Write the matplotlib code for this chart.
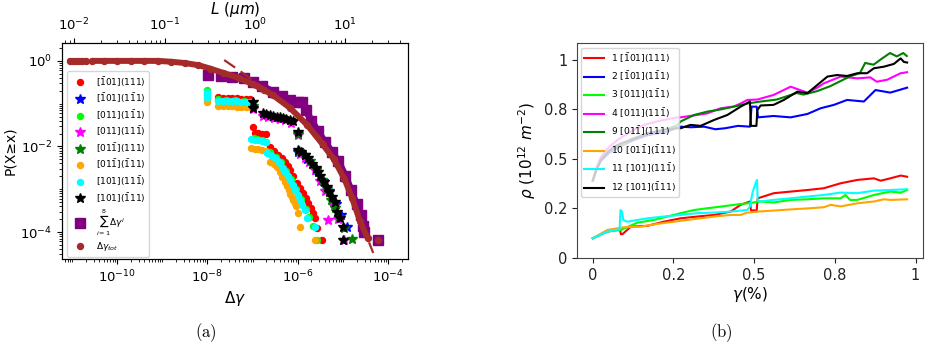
import numpy as np
import matplotlib
matplotlib.use("Agg")
import matplotlib.pyplot as plt
from matplotlib.ticker import FixedLocator, LogLocator, NullFormatter

# ---------------- Panel (a): CCDF data (log10 values) ----------------
red_lx = [-7.76, -7.65, -7.55, -7.45, -7.35, -7.25, -7.15, -7.05, -7.0, -6.95, -6.87, -6.79, -6.71, -6.61, -6.52,
          -6.44, -6.36, -6.28, -6.22, -6.17, -6.1, -6.02, -5.95, -5.88, -5.82, -5.77, -5.71, -5.66, -5.62, -5.57, -5.46]
red_ly = [-0.85, -0.86, -0.86, -0.87, -0.87, -0.88, -0.88, -0.9, -1.54, -1.68, -1.69, -1.7, -1.72, -2.01, -2.1,
          -2.2, -2.28, -2.36, -2.45, -2.55, -2.7, -2.85, -2.97, -3.09, -3.2, -3.32, -3.44, -3.56, -3.67, -3.91, -4.19]

blue_lx = [-6.0, -5.8, -5.6, -5.45, -5.3, -5.15, -5.05, -4.91]
blue_ly = [-2.12, -2.3, -2.55, -2.8, -3.05, -3.35, -3.6, -3.88]

lime_lx = [-8.0, -8.0, -8.0, -7.76, -7.6, -7.4, -7.2, -7.03, -6.98, -6.9, -6.8, -6.7, -6.62, -6.48, -6.37, -6.26,
           -6.15, -6.04, -5.93, -5.82, -5.76, -5.66, -5.57]
lime_ly = [-0.68, -0.74, -0.8, -0.9, -0.91, -0.92, -0.93, -0.95, -1.8, -1.83, -1.86, -1.9, -2.12, -2.25, -2.37, -2.58,
           -2.76, -3.0, -3.23, -3.47, -3.65, -3.86, -4.19]

magenta_lx = [-7.0, -6.77, -6.65, -6.52, -6.4, -6.28, -6.15, -6.0, -5.95, -5.85, -5.75, -5.62, -5.5, -5.4, -5.33,
              -5.2, -5.1, -4.98]
magenta_ly = [-1.12, -1.28, -1.31, -1.33, -1.36, -1.39, -1.45, -1.74, -2.17, -2.27, -2.36, -2.55, -2.8, -3.05, -3.72,
              -3.4, -3.7, -4.19]

green_lx = [-7.0, -6.0, -5.97, -5.85, -5.72, -5.6, -5.47, -5.36, -5.27, -5.18, -5.08, -4.97, -4.8]
green_ly = [-1.06, -1.7, -2.1, -2.2, -2.33, -2.52, -2.78, -3.0, -3.25, -3.45, -3.65, -3.9, -4.17]

orange_lx = [-8.0, -8.0, -7.76, -7.65, -7.55, -7.45, -7.35, -7.25, -7.15, -7.05, -7.03, -6.95, -6.87, -6.79, -6.71,
             -6.61, -6.53, -6.46, -6.4, -6.35, -6.29, -6.24, -6.2, -6.17, -6.13, -6.1, -6.07, -6.04, -5.99, -5.95, -5.62]
orange_ly = [-0.9, -0.97, -1.05, -1.05, -1.06, -1.06, -1.07, -1.07, -1.08, -1.08, -2.04, -2.05, -2.07, -2.09, -2.11,
             -2.36, -2.42, -2.48, -2.6, -2.72, -2.83, -2.93, -3.02, -3.1, -3.18, -3.25, -3.32, -3.4, -3.55, -3.88, -4.19]

cyan_lx = [-8.0, -8.0, -8.0, -7.76, -7.65, -7.55, -7.45, -7.35, -7.25, -7.15, -7.05, -7.03, -6.95, -6.87, -6.79, -6.71,
           -6.68, -6.59, -6.5, -6.44, -6.39, -6.33, -6.28, -6.22, -6.17, -6.11, -6.06, -6.0, -5.95, -5.9, -5.84, -5.8,
           -5.62]
cyan_ly = [-0.72, -0.79, -0.86, -0.93, -0.93, -0.94, -0.94, -0.94, -0.95, -0.95, -0.96, -1.82, -1.84, -1.86, -1.88, -1.9,
           -2.15, -2.2, -2.27, -2.33, -2.39, -2.5, -2.6, -2.69, -2.78, -2.9, -3.02, -3.14, -3.25, -3.37, -3.49, -3.67,
           -3.88]

black_lx = [-7.0, -7.0, -6.77, -6.7, -6.62, -6.55, -6.47, -6.4, -6.32, -6.25, -6.17, -6.1, -6.0, -6.0, -5.93, -5.85,
            -5.77, -5.68, -5.6, -5.55, -5.5, -5.42, -5.35, -5.3, -5.24, -5.18, -5.13, -5.06, -5.0, -5.0]
black_ly = [-0.96, -1.1, -1.22, -1.25, -1.27, -1.28, -1.3, -1.32, -1.33, -1.35, -1.38, -1.4, -1.66, -2.08, -2.13, -2.2,
            -2.28, -2.4, -2.5, -2.6, -2.7, -2.83, -2.95, -3.06, -3.18, -3.3, -3.53, -3.67, -3.88, -4.19]

sum_lx = [-7.99, -7.7, -7.45, -7.2, -6.99, -6.8, -6.55, -6.35, -6.17, -6.0, -5.9, -5.82, -5.7, -5.55, -5.4, -5.25,
          -5.1, -4.95, -4.82, -4.7, -4.6, -4.56, -4.54, -4.22]
sum_ly = [-0.32, -0.36, -0.38, -0.41, -0.5, -0.58, -0.72, -0.82, -0.92, -0.95, -0.97, -1.15, -1.4, -1.65, -1.9, -2.12,
          -2.35, -2.68, -3.02, -3.35, -3.6, -3.85, -4.0, -4.19]

tot_lx = [-11.05, -10.98, -10.91, -10.84, -10.77, -10.7, -10.55, -10.3, -10.0, -9.7, -9.4, -9.1, -8.8, -8.5, -8.2,
          -7.94, -7.65, -7.3, -6.99, -6.75, -6.55, -6.17, -5.79, -5.45, -5.2, -4.97, -4.8, -4.62, -4.45, -4.22]
tot_ly = [0, 0, 0, 0, 0, 0, 0, 0, 0, 0, 0, 0, -0.02, -0.05, -0.1, -0.18, -0.28, -0.4, -0.55, -0.68, -0.8, -1.1, -1.5,
          -1.95, -2.3, -2.75, -3.2, -3.75, -4.15, -4.19]

fit_lx = [-7.63, -7.3, -7.0, -6.7, -6.4, -6.1, -5.8, -5.5, -5.2, -4.95, -4.75, -4.55, -4.33]
fit_ly = [0.02, -0.22, -0.45, -0.67, -0.9, -1.15, -1.45, -1.8, -2.25, -2.75, -3.3, -3.9, -4.49]

labels_a = [r'$[\bar{1}01](111)$', r'$[\bar{1}01](1\bar{1}1)$', r'$[011](1\bar{1}1)$', r'$[011](11\bar{1})$',
            r'$[01\bar{1}](111)$', r'$[01\bar{1}](\bar{1}11)$', r'$[101](11\bar{1})$', r'$[101](\bar{1}11)$']

# ---------------- Panel (b): dislocation density per slip system ----------------
s1_x = [0, 0.045, 0.084, 0.087, 0.092, 0.118, 0.169, 0.22, 0.272, 0.324, 0.376, 0.427, 0.458, 0.487, 0.49, 0.508,
        0.511, 0.561, 0.613, 0.665, 0.716, 0.768, 0.82, 0.871, 0.892, 0.922, 0.954, 0.974]
s1_y = [0.099, 0.133, 0.145, 0.12, 0.12, 0.158, 0.162, 0.183, 0.2, 0.209, 0.217, 0.234, 0.268, 0.285, 0.24, 0.24,
        0.301, 0.327, 0.335, 0.343, 0.352, 0.377, 0.394, 0.402, 0.39, 0.402, 0.416, 0.41]

s2_x = [0, 0.01, 0.025, 0.05, 0.08, 0.128, 0.17, 0.23, 0.272, 0.303, 0.345, 0.38, 0.41, 0.45, 0.487, 0.492, 0.508,
        0.512, 0.56, 0.613, 0.665, 0.706, 0.747, 0.788, 0.84, 0.876, 0.922, 0.974]
s2_y = [0.39, 0.44, 0.49, 0.53, 0.56, 0.596, 0.62, 0.638, 0.663, 0.66, 0.663, 0.65, 0.655, 0.667, 0.663, 0.764, 0.764,
        0.71, 0.717, 0.71, 0.727, 0.756, 0.773, 0.798, 0.79, 0.848, 0.835, 0.86]

s3_x = [0, 0.045, 0.087, 0.138, 0.19, 0.231, 0.272, 0.314, 0.355, 0.396, 0.437, 0.479, 0.52, 0.56, 0.613, 0.665,
        0.716, 0.768, 0.783, 0.797, 0.82, 0.871, 0.922, 0.954, 0.974]
s3_y = [0.099, 0.133, 0.141, 0.178, 0.192, 0.209, 0.226, 0.242, 0.251, 0.259, 0.268, 0.276, 0.285, 0.28, 0.293, 0.296,
        0.301, 0.301, 0.318, 0.293, 0.293, 0.318, 0.335, 0.33, 0.343]

s4_x = [0, 0.01, 0.025, 0.05, 0.08, 0.12, 0.159, 0.2, 0.23, 0.262, 0.272, 0.314, 0.355, 0.396, 0.437, 0.458, 0.479,
        0.51, 0.56, 0.613, 0.665, 0.696, 0.716, 0.768, 0.82, 0.86, 0.88, 0.912, 0.954, 0.974]
s4_y = [0.39, 0.45, 0.51, 0.56, 0.6, 0.64, 0.672, 0.69, 0.7, 0.71, 0.71, 0.72, 0.73, 0.756, 0.765, 0.78, 0.798, 0.80,
        0.823, 0.865, 0.835, 0.86, 0.882, 0.916, 0.907, 0.912, 0.89, 0.90, 0.933, 0.938]

s9_x = [0, 0.01, 0.025, 0.05, 0.066, 0.1, 0.118, 0.17, 0.22, 0.262, 0.272, 0.314, 0.355, 0.396, 0.437, 0.479, 0.52,
        0.57, 0.632, 0.653, 0.694, 0.735, 0.766, 0.797, 0.828, 0.844, 0.87, 0.89, 0.921, 0.942, 0.962, 0.973]
s9_y = [0.39, 0.44, 0.495, 0.54, 0.56, 0.575, 0.6, 0.63, 0.645, 0.67, 0.689, 0.722, 0.739, 0.75, 0.764, 0.78, 0.79,
        0.80, 0.833, 0.825, 0.842, 0.867, 0.892, 0.917, 0.934, 0.985, 0.976, 1.0, 1.035, 1.018, 1.035, 1.02]

s10_x = [0, 0.045, 0.097, 0.149, 0.2, 0.252, 0.293, 0.334, 0.376, 0.427, 0.458, 0.479, 0.51, 0.56, 0.613, 0.665,
         0.716, 0.737, 0.768, 0.82, 0.871, 0.902, 0.922, 0.974]
s10_y = [0.099, 0.141, 0.155, 0.158, 0.172, 0.183, 0.192, 0.2, 0.209, 0.217, 0.217, 0.229, 0.234, 0.239, 0.245, 0.25,
         0.256, 0.268, 0.26, 0.276, 0.285, 0.296, 0.293, 0.296]

s11_x = [0, 0.045, 0.083, 0.086, 0.09, 0.095, 0.107, 0.169, 0.22, 0.272, 0.324, 0.376, 0.427, 0.479, 0.487, 0.495,
         0.505, 0.509, 0.511, 0.52, 0.56, 0.613, 0.665, 0.716, 0.768, 0.82, 0.871, 0.922, 0.974]
s11_y = [0.099, 0.133, 0.145, 0.242, 0.235, 0.19, 0.183, 0.2, 0.209, 0.217, 0.226, 0.229, 0.234, 0.242, 0.26, 0.33,
         0.38, 0.394, 0.29, 0.285, 0.293, 0.301, 0.31, 0.318, 0.33, 0.327, 0.34, 0.343, 0.347]

s12_x = [0, 0.01, 0.025, 0.05, 0.066, 0.09, 0.118, 0.15, 0.17, 0.2, 0.23, 0.262, 0.272, 0.303, 0.334, 0.376, 0.417,
         0.458, 0.487, 0.49, 0.507, 0.51, 0.52, 0.56, 0.592, 0.634, 0.665, 0.696, 0.727, 0.757, 0.788, 0.82, 0.85,
         0.871, 0.902, 0.933, 0.954, 0.964, 0.974]
s12_y = [0.39, 0.44, 0.495, 0.54, 0.562, 0.58, 0.596, 0.615, 0.63, 0.64, 0.65, 0.655, 0.655, 0.672, 0.667, 0.697,
         0.722, 0.764, 0.79, 0.667, 0.667, 0.747, 0.77, 0.773, 0.798, 0.84, 0.832, 0.874, 0.916, 0.924, 0.919, 0.933,
         0.933, 0.958, 0.966, 0.98, 1.008, 0.99, 0.987]

labels_b = ['1 ' + r'$[\bar{1}01](111)$', '2 ' + r'$[\bar{1}01](1\bar{1}1)$', '3 ' + r'$[011](1\bar{1}1)$',
            '4 ' + r'$[011](11\bar{1})$', '9 ' + r'$[01\bar{1}](111)$', '10 ' + r'$[01\bar{1}](\bar{1}11)$',
            '11 ' + r'$[101](11\bar{1})$', '12 ' + r'$[101](\bar{1}11)$']
b_ticks = [0, 0.25, 0.5, 0.75, 1.0]
b_ticklabels = ['0', '0.2', '0.5', '0.8', '1']

# ---------------- Figure ----------------
fig = plt.figure(figsize=(9.3, 3.49), dpi=100)

def p(a):
    return 10.0 ** np.asarray(a, dtype=float)

ax1 = fig.add_axes([0.0667, 0.258, 0.372, 0.619])
ax1.set_xscale('log')
ax1.set_yscale('log')

series_a = [
    (red_lx, red_ly, 'o', 'red', 4.3),
    (blue_lx, blue_ly, '*', 'blue', 7.5),
    (lime_lx, lime_ly, 'o', 'lime', 4.3),
    (magenta_lx, magenta_ly, '*', 'magenta', 7.5),
    (green_lx, green_ly, '*', 'green', 7.5),
    (orange_lx, orange_ly, 'o', 'orange', 4.3),
    (cyan_lx, cyan_ly, 'o', 'cyan', 4.3),
    (black_lx, black_ly, '*', 'black', 7.5),
]
for (lx, ly, m, c, ms), lab in zip(series_a, labels_a):
    ax1.plot(p(lx), p(ly), linestyle='none', marker=m, color=c, ms=ms, label=lab)

purple = '#800080'
brown = '#a52a2a'
ax1.plot(p(sum_lx[1:-1]), p(sum_ly[1:-1]), color=purple, lw=5.0, solid_capstyle='butt')
ax1.plot(p(sum_lx), p(sum_ly), linestyle='none', marker='s', color=purple, ms=6.5,
         label=r'$\sum_{i=1}^{8}\Delta\gamma^i$')
ax1.plot(p(tot_lx[0:6]), p(tot_ly[0:6]), color=brown, lw=4.3, solid_capstyle='round')
ax1.plot(p(tot_lx[6:-1]), p(tot_ly[6:-1]), color=brown, lw=4.3, solid_capstyle='round')
ax1.plot(p(tot_lx), p(tot_ly), linestyle='none', marker='o', color=brown, ms=4.3,
         label=r'$\Delta\gamma_{tot}$')
ax1.plot(p(fit_lx), p(fit_ly), color=brown, lw=1.6, dashes=(6, 3))

xmin, xmax = 10 ** -11.22, 10 ** -3.56
ax1.set_xlim(xmin, xmax)
ax1.set_ylim(10 ** -4.63, 10 ** 0.42)
ax1.xaxis.set_major_locator(FixedLocator([1e-10, 1e-8, 1e-6, 1e-4]))
ax1.xaxis.set_minor_locator(LogLocator(base=10, subs=np.arange(1, 10), numticks=60))
ax1.xaxis.set_minor_formatter(NullFormatter())
ax1.yaxis.set_major_locator(FixedLocator([1e-4, 1e-2, 1.0]))
ax1.yaxis.set_minor_locator(LogLocator(base=10, subs=np.arange(1, 10), numticks=60))
ax1.yaxis.set_minor_formatter(NullFormatter())
ax1.tick_params(labelsize=9.5)
ax1.set_xlabel(r'$\Delta\gamma$', fontsize=11, labelpad=3)
ax1.set_ylabel('P(X≥x)', fontsize=10, labelpad=2)

leg1 = ax1.legend(loc='upper left', bbox_to_anchor=(0.0145, 0.870), borderaxespad=0, fontsize=6.5,
                  labelspacing=0.3, handletextpad=0.8, borderpad=0.4, framealpha=0.8)

c_ref = 10 ** -6.95
axt = ax1.twiny()
axt.set_xscale('log')
axt.set_xlim(np.sqrt(xmin / c_ref), np.sqrt(xmax / c_ref))
axt.xaxis.set_major_locator(FixedLocator([1e-2, 1e-1, 1.0, 10.0]))
axt.xaxis.set_minor_locator(LogLocator(base=10, subs=np.arange(2, 10), numticks=60))
axt.xaxis.set_minor_formatter(NullFormatter())
axt.tick_params(labelsize=9.5)
axt.set_xlabel(r'$L\ (\mu m)$', fontsize=11, labelpad=2)

# ---------------- Panel (b) ----------------
ax2 = fig.add_axes([0.6204, 0.261, 0.372, 0.616])
series_b = [(s1_x, s1_y, 'red'), (s2_x, s2_y, 'blue'), (s3_x, s3_y, 'lime'), (s4_x, s4_y, 'magenta'),
            (s9_x, s9_y, 'green'), (s10_x, s10_y, 'orange'), (s11_x, s11_y, 'cyan'), (s12_x, s12_y, 'black')]
for (x, y, c), lab in zip(series_b, labels_b):
    ax2.plot(x, y, color=c, lw=1.5, label=lab)
ax2.set_xlim(-0.049, 1.023)
ax2.set_ylim(0, 1.086)
ax2.set_xticks(b_ticks)
ax2.set_xticklabels(b_ticklabels)
ax2.set_yticks(b_ticks)
ax2.set_yticklabels(b_ticklabels)
ax2.tick_params(labelsize=10.5, colors='#222222')
for sp in ax2.spines.values():
    sp.set_color('#444444')
ax2.set_xlabel(r'$\gamma(\%)$', fontsize=11, labelpad=2)
ax2.set_ylabel(r'$\rho\ (10^{12}\ m^{-2})$', fontsize=11, labelpad=4)
ax2.legend(loc='upper left', bbox_to_anchor=(0.0116, 0.977), borderaxespad=0, fontsize=6.6,
           labelspacing=0.5, handletextpad=0.8, borderpad=0.3, handlelength=2.2, framealpha=0.8)

fig.text(206 / 930, 1 - 333 / 349, r'$\mathrm{(a)}$', ha='center', va='center', fontsize=12, math_fontfamily='cm')
fig.text(721 / 930, 1 - 333 / 349, r'$\mathrm{(b)}$', ha='center', va='center', fontsize=12, math_fontfamily='cm')

fig.savefig('out.png', dpi=100)
